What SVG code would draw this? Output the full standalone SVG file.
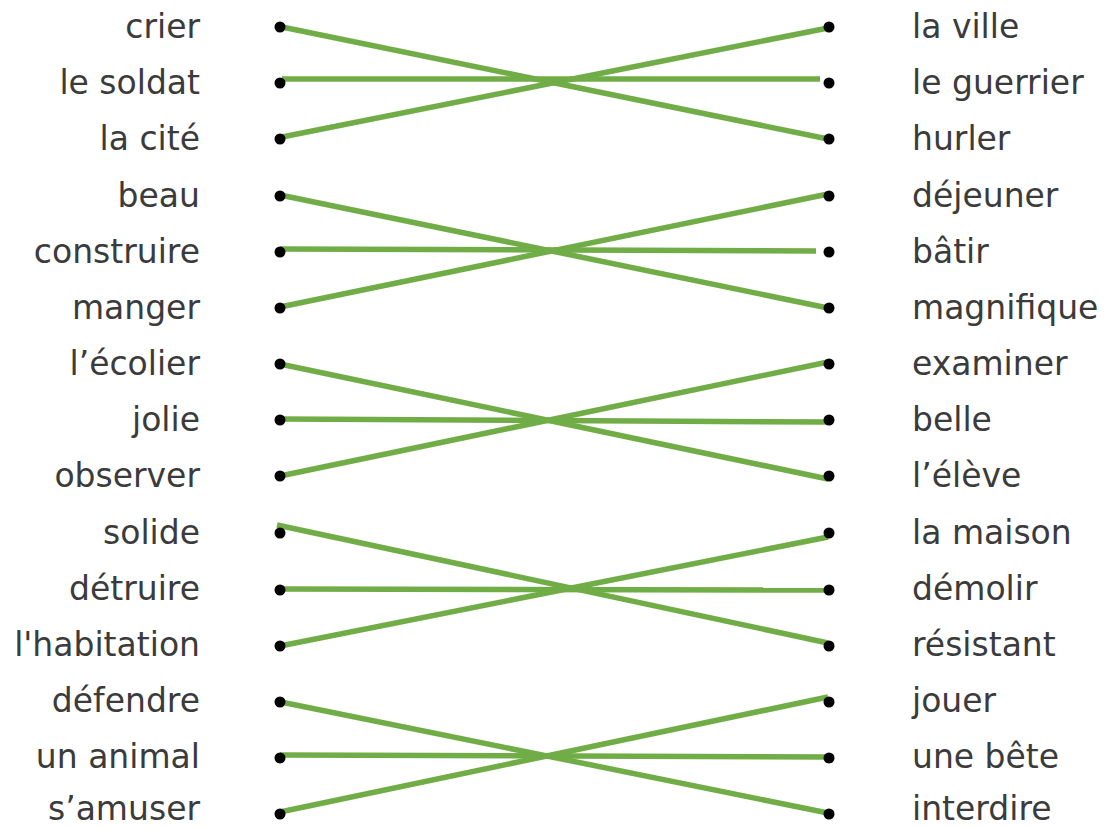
<svg xmlns="http://www.w3.org/2000/svg" width="1106" height="828" viewBox="0 0 1106 828">
<style>
.lt{font-family:"DejaVu Sans","Liberation Sans",sans-serif;font-size:33px;fill:#3b3b3b;text-anchor:end}
.rt{font-family:"DejaVu Sans","Liberation Sans",sans-serif;font-size:33px;fill:#3b3b3b;text-anchor:start}
.dot{fill:#000}
.ln{stroke:#70AD47;stroke-width:5.5;fill:none;stroke-linecap:butt}
</style>
<rect width="1106" height="828" fill="#fff"/>
<g id="connectors">
<line class="ln" x1="282" y1="27" x2="828" y2="139"/>
<line class="ln" x1="282" y1="79" x2="820" y2="79"/>
<line class="ln" x1="282" y1="137" x2="828" y2="28"/>
<line class="ln" x1="280" y1="195" x2="828" y2="308"/>
<line class="ln" x1="280" y1="249" x2="816" y2="251"/>
<line class="ln" x1="280" y1="307" x2="828" y2="194"/>
<line class="ln" x1="280" y1="364" x2="828" y2="479"/>
<line class="ln" x1="280" y1="419" x2="828" y2="422"/>
<line class="ln" x1="280" y1="476" x2="828" y2="362"/>
<line class="ln" x1="277" y1="525" x2="828" y2="643"/>
<line class="ln" x1="282" y1="589" x2="828" y2="590"/>
<line class="ln" x1="280" y1="646" x2="828" y2="537"/>
<line class="ln" x1="276" y1="701" x2="828" y2="813"/>
<line class="ln" x1="280" y1="755" x2="828" y2="757"/>
<line class="ln" x1="280" y1="812" x2="828" y2="697"/>
</g>
<g id="l1"><text class="lt" x="200" y="38">crier</text><circle class="dot" cx="280" cy="27" r="5.5"/></g>
<g id="l2"><text class="lt" x="200" y="94">le soldat</text><circle class="dot" cx="280" cy="83" r="5.5"/></g>
<g id="l3"><text class="lt" x="200" y="150">la cité</text><circle class="dot" cx="280" cy="139" r="5.5"/></g>
<g id="l4"><text class="lt" x="200" y="207">beau</text><circle class="dot" cx="280" cy="196" r="5.5"/></g>
<g id="l5"><text class="lt" x="200" y="263">construire</text><circle class="dot" cx="280" cy="252" r="5.5"/></g>
<g id="l6"><text class="lt" x="200" y="319">manger</text><circle class="dot" cx="280" cy="308" r="5.5"/></g>
<g id="l7"><text class="lt" x="200" y="375">l’écolier</text><circle class="dot" cx="280" cy="364" r="5.5"/></g>
<g id="l8"><text class="lt" x="200" y="431">jolie</text><circle class="dot" cx="280" cy="420" r="5.5"/></g>
<g id="l9"><text class="lt" x="200" y="487">observer</text><circle class="dot" cx="280" cy="476" r="5.5"/></g>
<g id="l10"><text class="lt" x="200" y="544">solide</text><circle class="dot" cx="280" cy="533" r="5.5"/></g>
<g id="l11"><text class="lt" x="200" y="600">détruire</text><circle class="dot" cx="280" cy="590" r="5.5"/></g>
<g id="l12"><text class="lt" x="200" y="656">l'habitation</text><circle class="dot" cx="280" cy="646" r="5.5"/></g>
<g id="l13"><text class="lt" x="200" y="712">défendre</text><circle class="dot" cx="280" cy="702" r="5.5"/></g>
<g id="l14"><text class="lt" x="200" y="768">un animal</text><circle class="dot" cx="280" cy="758" r="5.5"/></g>
<g id="l15"><text class="lt" x="200" y="820">s’amuser</text><circle class="dot" cx="280" cy="814" r="5.5"/></g>
<g id="r1"><circle class="dot" cx="829" cy="27" r="5.5"/><text class="rt" x="912" y="38">la ville</text></g>
<g id="r2"><circle class="dot" cx="829" cy="83" r="5.5"/><text class="rt" x="912" y="94">le guerrier</text></g>
<g id="r3"><circle class="dot" cx="829" cy="139" r="5.5"/><text class="rt" x="912" y="150">hurler</text></g>
<g id="r4"><circle class="dot" cx="829" cy="196" r="5.5"/><text class="rt" x="912" y="207">déjeuner</text></g>
<g id="r5"><circle class="dot" cx="829" cy="252" r="5.5"/><text class="rt" x="912" y="263">bâtir</text></g>
<g id="r6"><circle class="dot" cx="829" cy="308" r="5.5"/><text class="rt" x="912" y="319">magnifique</text></g>
<g id="r7"><circle class="dot" cx="829" cy="364" r="5.5"/><text class="rt" x="912" y="375">examiner</text></g>
<g id="r8"><circle class="dot" cx="829" cy="420" r="5.5"/><text class="rt" x="912" y="431">belle</text></g>
<g id="r9"><circle class="dot" cx="829" cy="476" r="5.5"/><text class="rt" x="912" y="487">l’élève</text></g>
<g id="r10"><circle class="dot" cx="829" cy="533" r="5.5"/><text class="rt" x="912" y="544">la maison</text></g>
<g id="r11"><circle class="dot" cx="829" cy="590" r="5.5"/><text class="rt" x="912" y="600">démolir</text></g>
<g id="r12"><circle class="dot" cx="829" cy="646" r="5.5"/><text class="rt" x="912" y="656">résistant</text></g>
<g id="r13"><circle class="dot" cx="829" cy="702" r="5.5"/><text class="rt" x="912" y="712">jouer</text></g>
<g id="r14"><circle class="dot" cx="829" cy="758" r="5.5"/><text class="rt" x="912" y="768">une bête</text></g>
<g id="r15"><circle class="dot" cx="829" cy="814" r="5.5"/><text class="rt" x="912" y="820">interdire</text></g>
</svg>
